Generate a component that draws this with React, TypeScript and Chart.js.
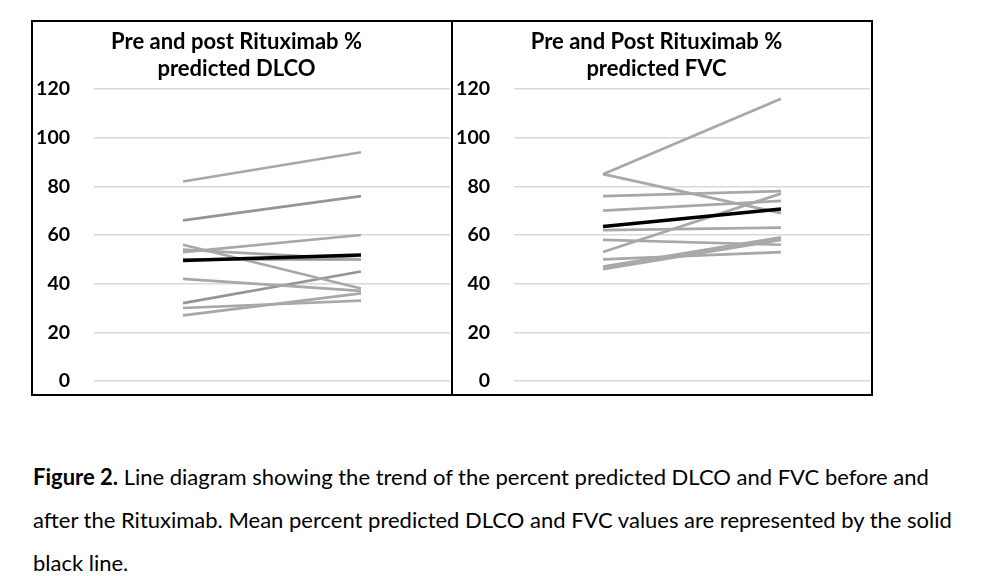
import React, { useEffect, useRef } from "react";
import { Chart, registerables } from "chart.js";

Chart.register(...registerables);

const categories = ["Pre", "Post"];
const yTicks = [0, 20, 40, 60, 80, 100, 120];

const dlcoTitle = ["Pre and post Rituximab %", "predicted DLCO"];
const dlcoMean = [49.5, 51.8];
const dlcoPatients = [
  [82, 94],
  [66, 76],
  [53, 60],
  [56, 38],
  [54, 50],
  [50, 50],
  [42, 37],
  [32, 45],
  [30, 33],
  [27, 36],
];
const dlcoDark = [false, true, false, false, false, true, false, true, false, false];

const fvcTitle = ["Pre and Post Rituximab %", "predicted FVC"];
const fvcMean = [63.5, 70.7];
const fvcPatients = [
  [85, 116],
  [85, 69],
  [76, 78],
  [70, 74],
  [62, 63],
  [58, 56],
  [53, 77],
  [50, 53],
  [47, 59],
  [46, 58],
];
const fvcDark = [false, false, false, false, false, false, false, false, false, false];

const captionLines = [
  ["Figure 2.", " Line diagram showing the trend of the percent predicted DLCO and FVC before and"],
  ["", "after the Rituximab. Mean percent predicted DLCO and FVC values are represented by the solid"],
  ["", "black line."],
];

const FONT = "Lato, 'Noto Sans', sans-serif";

function Panel(props: {
  title: string[];
  mean: number[];
  patients: number[][];
  dark: boolean[];
}) {
  const ref = useRef<HTMLCanvasElement | null>(null);
  useEffect(() => {
    if (!ref.current) return;
    const datasets: any[] = [
      {
        label: "Mean",
        data: props.mean,
        borderColor: "#000000",
        borderWidth: 3.5,
        pointRadius: 0,
        order: 0,
      },
    ];
    props.patients.forEach((p, i) => {
      datasets.push({
        label: "Patient " + (i + 1),
        data: p,
        borderColor: props.dark[i] ? "#959595" : "#a8a8a8",
        borderWidth: 2.7,
        pointRadius: 0,
        order: 1,
      });
    });
    const chart = new Chart(ref.current, {
      type: "line",
      data: { labels: categories, datasets },
      options: {
        animation: false,
        responsive: false,
        maintainAspectRatio: false,
        layout: { padding: { left: -10, right: 1, top: 0, bottom: 13 } },
        plugins: {
          legend: { display: false },
          tooltip: { enabled: false },
          title: {
            display: true,
            text: props.title,
            color: "#000000",
            font: { family: FONT, size: 22, weight: "bold", lineHeight: 1.25 },
            padding: { top: 6, bottom: 6 },
          },
        },
        scales: {
          x: {
            display: false,
            offset: true,
          },
          y: {
            min: 0,
            max: 120,
            afterBuildTicks: (scale: any) => {
              scale.ticks = yTicks.map((v) => ({ value: v }));
            },
            afterFit: (scale: any) => {
              scale.width = 71;
            },
            grid: {
              color: "#d9d9d9",
              lineWidth: 1.5,
              drawTicks: true,
              tickLength: 24,
              tickColor: "rgba(0,0,0,0)",
            },
            border: { display: false },
            ticks: {
              padding: 0,
              color: "#000000",
              font: { family: FONT, size: 19.5, weight: "bold" },
            },
          },
        },
      },
    });
    return () => chart.destroy();
  }, []);
  return <canvas ref={ref} width={418} height={372} style={{ display: "block" }} />;
}

export default function App() {
  return (
    <div
      style={{
        position: "absolute",
        left: 0,
        top: 0,
        width: 1005,
        height: 576,
        background: "#ffffff",
      }}
    >
      <div
        style={{
          position: "absolute",
          left: 31,
          top: 20,
          width: 418,
          height: 372,
          border: "2px solid #000",
        }}
      >
        <Panel title={dlcoTitle} mean={dlcoMean} patients={dlcoPatients} dark={dlcoDark} />
      </div>
      <div
        style={{
          position: "absolute",
          left: 451,
          top: 20,
          width: 418,
          height: 372,
          border: "2px solid #000",
        }}
      >
        <Panel title={fvcTitle} mean={fvcMean} patients={fvcPatients} dark={fvcDark} />
      </div>
      <div
        style={{
          position: "absolute",
          left: 33,
          top: 455,
          fontFamily: FONT,
          fontSize: 22,
          color: "#000",
          whiteSpace: "nowrap",
        }}
      >
        {captionLines.map((l, i) => (
          <div key={i} style={{ height: 43, lineHeight: "43px" }}>
            {l[0] ? <b>{l[0]}</b> : null}
            {l[1]}
          </div>
        ))}
      </div>
    </div>
  );
}
